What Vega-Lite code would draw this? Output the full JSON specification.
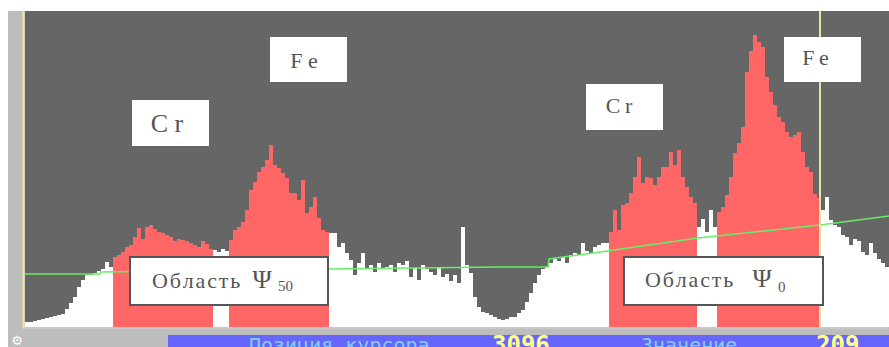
{
  "$schema": "https://vega.github.io/schema/vega-lite/v6.json",
  "width": 889,
  "height": 347,
  "padding": 0,
  "autosize": {"type": "none"},
  "background": "#ffffff",
  "config": {"view": {"stroke": null}},
  "datasets": {
    "spec": [
      {"x":0,"y":5},{"x":16,"y":5},{"x":32,"y":6},{"x":48,"y":7},{"x":64,"y":8},{"x":80,"y":9},{"x":96,"y":10},{"x":112,"y":11},{"x":128,"y":12},{"x":144,"y":13},
      {"x":160,"y":18},{"x":176,"y":24},{"x":192,"y":30},{"x":208,"y":40},{"x":224,"y":47},{"x":240,"y":52},{"x":256,"y":52},{"x":272,"y":54},{"x":288,"y":56},{"x":304,"y":58},
      {"x":320,"y":65},{"x":336,"y":60},{"x":352,"y":70},{"x":368,"y":72},{"x":384,"y":75},{"x":400,"y":80},{"x":416,"y":82},{"x":432,"y":90},{"x":448,"y":99},{"x":464,"y":88},
      {"x":480,"y":100},{"x":496,"y":102},{"x":512,"y":98},{"x":528,"y":95},{"x":544,"y":94},{"x":560,"y":92},{"x":576,"y":90},{"x":592,"y":86},{"x":608,"y":88},{"x":624,"y":87},
      {"x":640,"y":86},{"x":656,"y":84},{"x":672,"y":82},{"x":688,"y":80},{"x":704,"y":86},{"x":720,"y":83},{"x":736,"y":78},{"x":752,"y":77},{"x":768,"y":75},{"x":784,"y":78},
      {"x":800,"y":76},{"x":816,"y":87},{"x":832,"y":97},{"x":848,"y":100},{"x":864,"y":105},{"x":880,"y":117},{"x":896,"y":137},{"x":912,"y":145},{"x":928,"y":155},{"x":944,"y":160},
      {"x":960,"y":167},{"x":976,"y":182},{"x":992,"y":162},{"x":1008,"y":159},{"x":1024,"y":154},{"x":1040,"y":149},{"x":1056,"y":134},{"x":1072,"y":134},{"x":1088,"y":127},{"x":1104,"y":147},
      {"x":1120,"y":114},{"x":1136,"y":120},{"x":1152,"y":130},{"x":1168,"y":109},{"x":1184,"y":97},{"x":1200,"y":95},{"x":1216,"y":94},{"x":1232,"y":94},{"x":1248,"y":80},{"x":1264,"y":84},
      {"x":1280,"y":74},{"x":1296,"y":67},{"x":1312,"y":52},{"x":1328,"y":64},{"x":1344,"y":74},{"x":1360,"y":58},{"x":1376,"y":62},{"x":1392,"y":55},{"x":1408,"y":64},{"x":1424,"y":58},
      {"x":1440,"y":60},{"x":1456,"y":62},{"x":1472,"y":55},{"x":1488,"y":64},{"x":1504,"y":62},{"x":1520,"y":66},{"x":1536,"y":50},{"x":1552,"y":59},{"x":1568,"y":47},{"x":1584,"y":62},
      {"x":1600,"y":58},{"x":1616,"y":55},{"x":1632,"y":52},{"x":1648,"y":60},{"x":1664,"y":50},{"x":1680,"y":53},{"x":1696,"y":46},{"x":1712,"y":52},{"x":1728,"y":44},{"x":1744,"y":100},
      {"x":1760,"y":62},{"x":1776,"y":54},{"x":1792,"y":30},{"x":1808,"y":20},{"x":1824,"y":15},{"x":1840,"y":14},{"x":1856,"y":12},{"x":1872,"y":10},{"x":1888,"y":8},{"x":1904,"y":7},
      {"x":1920,"y":8},{"x":1936,"y":10},{"x":1952,"y":10},{"x":1968,"y":14},{"x":1984,"y":17},{"x":2000,"y":25},{"x":2016,"y":34},{"x":2032,"y":44},{"x":2048,"y":52},{"x":2064,"y":58},
      {"x":2080,"y":60},{"x":2096,"y":64},{"x":2112,"y":68},{"x":2128,"y":66},{"x":2144,"y":70},{"x":2160,"y":64},{"x":2176,"y":72},{"x":2192,"y":74},{"x":2208,"y":72},{"x":2224,"y":84},
      {"x":2240,"y":76},{"x":2256,"y":74},{"x":2272,"y":80},{"x":2288,"y":82},{"x":2304,"y":84},{"x":2320,"y":84},{"x":2336,"y":95},{"x":2352,"y":117},{"x":2368,"y":97},{"x":2384,"y":122},
      {"x":2400,"y":124},{"x":2416,"y":134},{"x":2432,"y":150},{"x":2448,"y":170},{"x":2464,"y":144},{"x":2480,"y":150},{"x":2496,"y":149},{"x":2512,"y":142},{"x":2528,"y":150},{"x":2544,"y":160},
      {"x":2560,"y":160},{"x":2576,"y":175},{"x":2592,"y":162},{"x":2608,"y":177},{"x":2624,"y":150},{"x":2640,"y":140},{"x":2656,"y":130},{"x":2672,"y":124},{"x":2688,"y":100},{"x":2704,"y":108},
      {"x":2720,"y":95},{"x":2736,"y":117},{"x":2752,"y":100},{"x":2768,"y":115},{"x":2784,"y":120},{"x":2800,"y":132},{"x":2816,"y":150},{"x":2832,"y":174},{"x":2848,"y":184},{"x":2864,"y":200},
      {"x":2880,"y":255},{"x":2896,"y":276},{"x":2912,"y":292},{"x":2928,"y":285},{"x":2944,"y":280},{"x":2960,"y":250},{"x":2976,"y":235},{"x":2992,"y":222},{"x":3008,"y":210},{"x":3024,"y":205},
      {"x":3040,"y":195},{"x":3056,"y":190},{"x":3072,"y":192},{"x":3088,"y":195},{"x":3104,"y":175},{"x":3120,"y":160},{"x":3136,"y":155},{"x":3152,"y":133},{"x":3168,"y":129},{"x":3184,"y":117},
      {"x":3200,"y":130},{"x":3216,"y":107},{"x":3232,"y":102},{"x":3248,"y":100},{"x":3264,"y":92},{"x":3280,"y":90},{"x":3296,"y":82},{"x":3312,"y":88},{"x":3328,"y":86},{"x":3344,"y":75},
      {"x":3360,"y":72},{"x":3376,"y":84},{"x":3392,"y":74},{"x":3408,"y":68},{"x":3424,"y":64},{"x":3440,"y":60},{"x":3456,"y":60}
    ],
    "fit": [
      {"x":0,"y":53},{"x":300,"y":53},{"x":304,"y":55},{"x":1220,"y":58},{"x":1900,"y":60},{"x":2092,"y":60},{"x":2096,"y":68},{"x":2300,"y":75},{"x":2692,"y":89},{"x":3180,"y":102},{"x":3456,"y":111}
    ],
    "labels": [
      {"x":980,"x2":1288,"y":290,"y2":245},
      {"x":428,"x2":736,"y":227,"y2":181},
      {"x":2244,"x2":2552,"y":243,"y2":197},
      {"x":3036,"x2":3344,"y":290,"y2":245}
    ],
    "roi": [
      {"x":420,"x2":1212,"y":70,"y2":22},
      {"x":2396,"x2":3192,"y":70,"y2":22}
    ]
  },
  "encoding": {
    "x": {"field": "x", "type": "quantitative", "scale": {"domain": [-100, 3456], "nice": false, "zero": false}, "axis": null},
    "y": {"field": "y", "type": "quantitative", "scale": {"domain": [-20, 327], "nice": false, "zero": false}, "axis": null}
  },
  "layer": [
    {
      "data": {"values": [{"x": -68, "x2": 3456, "y": 316, "y2": -20}]},
      "mark": {"type": "rect", "color": "#bdbdbd"},
      "encoding": {"x2": {"field": "x2"}, "y2": {"field": "y2"}}
    },
    {
      "data": {"values": [{"x": 572, "x2": 3456, "y": -8, "y2": -20}]},
      "mark": {"type": "rect", "color": "#6666ff"},
      "encoding": {"x2": {"field": "x2"}, "y2": {"field": "y2"}}
    },
    {
      "data": {"values": [{"x": -6, "y": 316, "y2": -1}]},
      "mark": {"type": "rule", "color": "#efe8a8", "strokeWidth": 2},
      "encoding": {"y2": {"field": "y2"}}
    },
    {
      "data": {"values": [{"x": -8, "x2": 3456, "y": -1}]},
      "mark": {"type": "rule", "color": "#e8dea0", "strokeWidth": 1.5, "strokeDash": [1, 1]},
      "encoding": {"x2": {"field": "x2"}}
    },
    {
      "data": {"values": [{"x": 0, "x2": 3456, "y": 316, "y2": 0}]},
      "mark": {"type": "rect", "color": "#666666"},
      "encoding": {"x2": {"field": "x2"}, "y2": {"field": "y2"}}
    },
    {
      "data": {"name": "spec"},
      "mark": {"type": "area", "interpolate": "step-after", "color": "#ffffff"},
      "encoding": {"y2": {"datum": 0}}
    },
    {
      "data": {"name": "spec"},
      "transform": [{"filter": {"field": "x", "range": [352, 752]}}],
      "mark": {"type": "area", "interpolate": "step-after", "color": "#ff6666"},
      "encoding": {"y2": {"datum": 0}}
    },
    {
      "data": {"name": "spec"},
      "transform": [{"filter": {"field": "x", "range": [816, 1216]}}],
      "mark": {"type": "area", "interpolate": "step-after", "color": "#ff6666"},
      "encoding": {"y2": {"datum": 0}}
    },
    {
      "data": {"name": "spec"},
      "transform": [{"filter": {"field": "x", "range": [2336, 2688]}}],
      "mark": {"type": "area", "interpolate": "step-after", "color": "#ff6666"},
      "encoding": {"y2": {"datum": 0}}
    },
    {
      "data": {"name": "spec"},
      "transform": [{"filter": {"field": "x", "range": [2768, 3184]}}],
      "mark": {"type": "area", "interpolate": "step-after", "color": "#ff6666"},
      "encoding": {"y2": {"datum": 0}}
    },
    {
      "data": {"name": "fit"},
      "mark": {"type": "line", "color": "#66ee66", "strokeWidth": 1.5},
      "encoding": {}
    },
    {
      "data": {"values": [{"x": 3180, "y": 316, "y2": 0}]},
      "mark": {"type": "rule", "color": "#e6e2a8", "strokeWidth": 2},
      "encoding": {"y2": {"field": "y2"}}
    },
    {
      "data": {"name": "labels"},
      "mark": {"type": "rect", "color": "#ffffff"},
      "encoding": {"x2": {"field": "x2"}, "y2": {"field": "y2"}}
    },
    {
      "data": {"name": "roi"},
      "mark": {"type": "rect", "fill": "#ffffff", "stroke": "#555555", "strokeWidth": 2},
      "encoding": {"x2": {"field": "x2"}, "y2": {"field": "y2"}}
    },
    {
      "data": {"values": [{"x": 568, "y": 195, "t": "C r"}]},
      "mark": {"type": "text", "font": "Liberation Serif", "fontSize": 26, "color": "#555555", "align": "center", "baseline": "alphabetic"},
      "encoding": {"text": {"field": "t"}}
    },
    {
      "data": {"values": [
        {"x": 1116, "y": 259, "t": "F e"},
        {"x": 2376, "y": 214, "t": "C\u2009r"},
        {"x": 3162, "y": 262, "t": "F\u2009e"}
      ]},
      "mark": {"type": "text", "font": "Liberation Serif", "fontSize": 22, "color": "#555555", "align": "center", "baseline": "alphabetic"},
      "encoding": {"text": {"field": "t"}}
    },
    {
      "data": {"values": [
        {"x": 508, "y": 39, "t": "О\u200aб\u200aл\u200aа\u200aс\u200aт\u200aь"},
        {"x": 2480, "y": 40, "t": "О\u200aб\u200aл\u200aа\u200aс\u200aт\u200aь"}
      ]},
      "mark": {"type": "text", "font": "Liberation Serif", "fontSize": 22, "color": "#555555", "align": "left", "baseline": "alphabetic"},
      "encoding": {"text": {"field": "t"}}
    },
    {
      "data": {"values": [
        {"x": 910, "y": 39, "t": "Ψ"},
        {"x": 2910, "y": 40, "t": "Ψ"}
      ]},
      "mark": {"type": "text", "font": "Liberation Serif", "fontSize": 26, "color": "#555555", "align": "left", "baseline": "alphabetic"},
      "encoding": {"text": {"field": "t"}}
    },
    {
      "data": {"values": [
        {"x": 1012, "y": 36, "t": "50"},
        {"x": 3012, "y": 35, "t": "0"}
      ]},
      "mark": {"type": "text", "font": "Liberation Serif", "fontSize": 15, "color": "#555555", "align": "left", "baseline": "alphabetic"},
      "encoding": {"text": {"field": "t"}}
    },
    {
      "data": {"values": [
        {"x": 896, "y": -25, "t": "Позиция курсора"},
        {"x": 2464, "y": -25, "t": "Значение"}
      ]},
      "mark": {"type": "text", "font": "DejaVu Sans Mono", "fontSize": 20, "color": "#80d0ff", "align": "left", "baseline": "alphabetic"},
      "encoding": {"text": {"field": "t"}}
    },
    {
      "data": {"values": [
        {"x": 1868, "y": -26, "t": "3096"},
        {"x": 3164, "y": -26, "t": "209"}
      ]},
      "mark": {"type": "text", "font": "DejaVu Sans Mono", "fontSize": 24, "fontWeight": "bold", "color": "#ffff88", "align": "left", "baseline": "alphabetic"},
      "encoding": {"text": {"field": "t"}}
    },
    {
      "data": {"values": [{"x": -32, "y": -14, "t": "⚙"}]},
      "mark": {"type": "text", "font": "DejaVu Sans", "fontSize": 13, "color": "#ffffff", "align": "center", "baseline": "middle"},
      "encoding": {"text": {"field": "t"}}
    }
  ]
}
